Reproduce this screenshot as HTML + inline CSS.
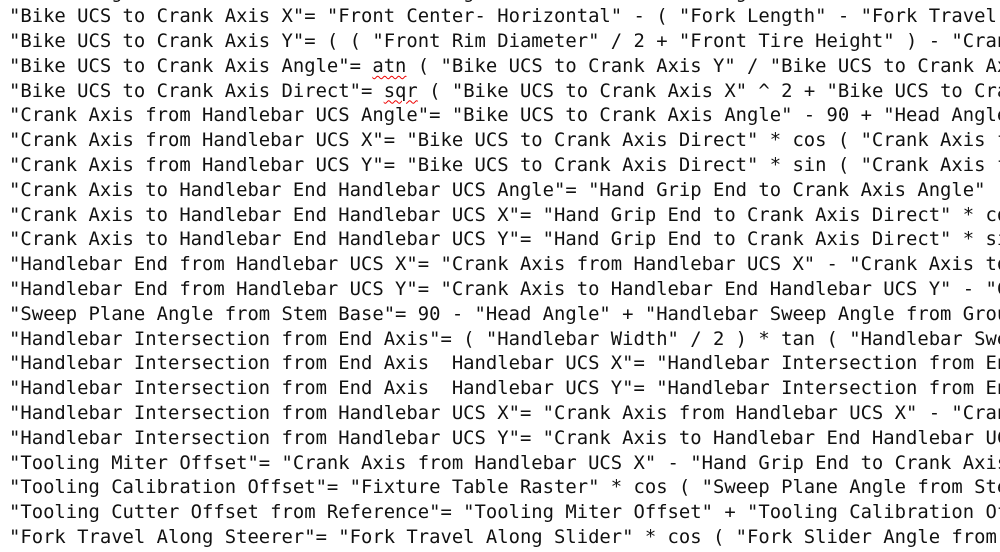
<!DOCTYPE html>
<html><head><meta charset="utf-8"><style>
html,body{margin:0;padding:0;background:#fff;width:1000px;height:552px;overflow:hidden}
#wrap{position:absolute;left:0;top:0;width:1000px;height:552px;overflow:hidden}
pre{margin:0;position:absolute;left:9px;top:-20.5px;font-family:"DejaVu Sans Mono","Liberation Mono",monospace;font-size:18.87px;line-height:24.8px;color:#111;white-space:pre}
u{text-decoration:underline wavy #e00;text-decoration-thickness:1px;text-underline-offset:3px}
</style></head><body><div id="wrap"><pre>"Fork Length from Crank Axis"= "Fork Length" - "Fork Travel Along Steerer" + "Crank"
"Bike UCS to Crank Axis X"= "Front Center- Horizontal" - ( "Fork Length" - "Fork Travel Along Steerer" )
"Bike UCS to Crank Axis Y"= ( ( "Front Rim Diameter" / 2 + "Front Tire Height" ) - "Crank Axis Height" )
"Bike UCS to Crank Axis Angle"= <u>atn</u> ( "Bike UCS to Crank Axis Y" / "Bike UCS to Crank Axis X" )
"Bike UCS to Crank Axis Direct"= <u>sqr</u> ( "Bike UCS to Crank Axis X" ^ 2 + "Bike UCS to Crank Axis Y" ^ 2 )
"Crank Axis from Handlebar UCS Angle"= "Bike UCS to Crank Axis Angle" - 90 + "Head Angle"
"Crank Axis from Handlebar UCS X"= "Bike UCS to Crank Axis Direct" * cos ( "Crank Axis from Handlebar"
"Crank Axis from Handlebar UCS Y"= "Bike UCS to Crank Axis Direct" * sin ( "Crank Axis from Handlebar"
"Crank Axis to Handlebar End Handlebar UCS Angle"= "Hand Grip End to Crank Axis Angle" - "Head"
"Crank Axis to Handlebar End Handlebar UCS X"= "Hand Grip End to Crank Axis Direct" * cos ( "
"Crank Axis to Handlebar End Handlebar UCS Y"= "Hand Grip End to Crank Axis Direct" * sin ( "
"Handlebar End from Handlebar UCS X"= "Crank Axis from Handlebar UCS X" - "Crank Axis to Handlebar"
"Handlebar End from Handlebar UCS Y"= "Crank Axis to Handlebar End Handlebar UCS Y" - "Crank Axis"
"Sweep Plane Angle from Stem Base"= 90 - "Head Angle" + "Handlebar Sweep Angle from Ground"
"Handlebar Intersection from End Axis"= ( "Handlebar Width" / 2 ) * tan ( "Handlebar Sweep"
"Handlebar Intersection from End Axis  Handlebar UCS X"= "Handlebar Intersection from End Axis"
"Handlebar Intersection from End Axis  Handlebar UCS Y"= "Handlebar Intersection from End Axis"
"Handlebar Intersection from Handlebar UCS X"= "Crank Axis from Handlebar UCS X" - "Crank Axis"
"Handlebar Intersection from Handlebar UCS Y"= "Crank Axis to Handlebar End Handlebar UCS Y"
"Tooling Miter Offset"= "Crank Axis from Handlebar UCS X" - "Hand Grip End to Crank Axis X"
"Tooling Calibration Offset"= "Fixture Table Raster" * cos ( "Sweep Plane Angle from Stem Base" )
"Tooling Cutter Offset from Reference"= "Tooling Miter Offset" + "Tooling Calibration Offset"
"Fork Travel Along Steerer"= "Fork Travel Along Slider" * cos ( "Fork Slider Angle from Steerer" )
</pre></div></body></html>
